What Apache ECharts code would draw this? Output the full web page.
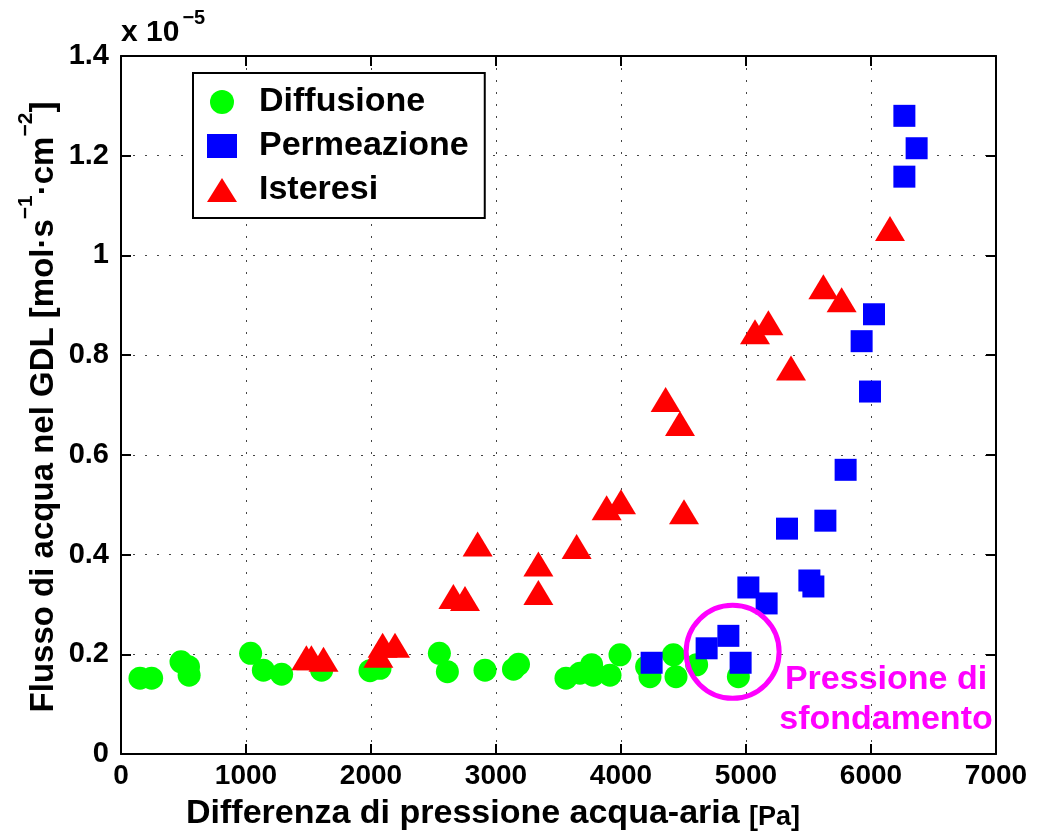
<!DOCTYPE html>
<html>
<head>
<meta charset="utf-8">
<script src="https://cdn.jsdelivr.net/npm/echarts@6/dist/echarts.min.js"></script>
<style>
    html, body { margin: 0; padding: 0; background: #fff; }
    #chart { width: 1037px; height: 834px; }
</style>
</head>
<body>
<div id="chart"></div>
<script>
// data (flux in units of 1e-5 mol s^-1 cm^-2)
const xTicks = [0, 1000, 2000, 3000, 4000, 5000, 6000, 7000];
const yTicks = [0, 0.2, 0.4, 0.6, 0.8, 1, 1.2, 1.4];

const diffX = [152, 245, 480, 540, 545, 1037, 1139, 1285, 1605, 1992, 2072, 2547, 2611, 2912,
    3140, 3180, 3560, 3672, 3765, 3778, 3912, 3992, 4205, 4232, 4419, 4440, 4605, 4939];
const diffY = [0.152, 0.152, 0.185, 0.175, 0.158, 0.202, 0.168, 0.160, 0.168, 0.167, 0.172, 0.202, 0.165, 0.168,
    0.170, 0.180, 0.152, 0.162, 0.179, 0.158, 0.158, 0.199, 0.175, 0.155, 0.199, 0.155, 0.179, 0.155];

const permX = [4245, 4685, 4859, 4957, 5019, 5165, 5507, 5539, 5328, 5635, 5797, 5992, 5925, 6024, 6267, 6365, 6267];
const permY = [0.183, 0.212, 0.237, 0.183, 0.334, 0.302, 0.348, 0.336, 0.452, 0.468, 0.570, 0.727, 0.828, 0.882,
    1.280, 1.215, 1.158];

const istX = [1483, 1523, 1620, 2059, 2093, 2192, 2659, 2752, 2853, 3339, 3339, 3645, 3885, 4000, 4357, 4472,
    4504, 5072, 5179, 5360, 5619, 5765, 6152];
const istY = [0.193, 0.193, 0.190, 0.198, 0.218, 0.218, 0.316, 0.312, 0.421, 0.381, 0.324, 0.416, 0.494, 0.506,
    0.711, 0.663, 0.486, 0.847, 0.865, 0.774, 0.937, 0.911, 1.054];

// breakthrough pressure marker
const ringX = [4893];
const ringY = [0.205];

const FONT = 'Liberation Sans, Arial, sans-serif';

function pairs(xs, ys) {
    return xs.map((x, i) => [x, ys[i]]);
}

const chart = echarts.init(document.getElementById('chart'));

const gridLine = {
    show: true,
    lineStyle: { color: '#444', width: 1, type: [2, 10] }
};
const boxLine = { show: true, onZero: false, lineStyle: { color: '#000', width: 2 } };
const boxTick = { show: true, inside: true, length: 10, lineStyle: { color: '#000', width: 2 } };

const option = {
    animation: false,
    backgroundColor: '#fff',
    grid: { left: 121, right: 41, top: 56, bottom: 80 },
    xAxis: [{
        type: 'value',
        min: xTicks[0],
        max: xTicks[xTicks.length - 1],
        interval: 1000,
        axisLine: boxLine,
        axisTick: boxTick,
        axisLabel: {
            color: '#000', fontFamily: FONT, fontWeight: 'bold', fontSize: 28, margin: 8,
            formatter: v => String(v)
        },
        splitLine: gridLine
    }, {
        type: 'value',
        position: 'top',
        min: xTicks[0],
        max: xTicks[xTicks.length - 1],
        interval: 1000,
        axisLine: boxLine,
        axisTick: boxTick,
        axisLabel: { show: false },
        splitLine: { show: false }
    }],
    yAxis: [{
        type: 'value',
        min: yTicks[0],
        max: yTicks[yTicks.length - 1],
        interval: 0.2,
        axisLine: boxLine,
        axisTick: boxTick,
        axisLabel: { color: '#000', fontFamily: FONT, fontWeight: 'bold', fontSize: 29, margin: 12 },
        splitLine: gridLine
    }, {
        type: 'value',
        position: 'right',
        min: yTicks[0],
        max: yTicks[yTicks.length - 1],
        interval: 0.2,
        axisLine: boxLine,
        axisTick: boxTick,
        axisLabel: { show: false },
        splitLine: { show: false }
    }],
    legend: {
        orient: 'vertical',
        left: 193,
        top: 73,
        data: ['Diffusione', 'Permeazione', 'Isteresi'],
        itemWidth: 30,
        itemHeight: 24,
        itemGap: 10,
        padding: [12, 16, 11, 14],
        borderColor: '#000',
        borderWidth: 2,
        backgroundColor: '#fff',
        textStyle: {
            color: '#000', fontFamily: FONT, fontWeight: 'bold', fontSize: 34,
            lineHeight: 33, padding: [0, 0, 0, 17]
        }
    },
    series: [{
        name: 'Diffusione',
        type: 'scatter',
        symbol: 'circle',
        symbolSize: 23,
        itemStyle: { color: '#00ff00', opacity: 1 },
        data: pairs(diffX, diffY)
    }, {
        name: 'Permeazione',
        type: 'scatter',
        symbol: 'rect',
        symbolSize: 22,
        itemStyle: { color: '#0000ff', opacity: 1 },
        data: pairs(permX, permY)
    }, {
        name: 'Isteresi',
        type: 'scatter',
        symbol: 'triangle',
        symbolSize: [30, 25],
        itemStyle: { color: '#ff0000', opacity: 1 },
        data: pairs(istX, istY)
    }, {
        name: 'ring',
        type: 'scatter',
        symbol: 'circle',
        symbolSize: 93,
        silent: true,
        z: 5,
        itemStyle: { color: 'transparent', borderColor: '#ff00ff', borderWidth: 5, opacity: 1 },
        data: pairs(ringX, ringY)
    }],
    graphic: [{
        type: 'text',
        left: 121,
        top: 8,
        style: {
            text: '{b|x 10}{s|\u22125}',
            fill: '#000',
            rich: {
                b: { fontFamily: FONT, fontSize: 30, fontWeight: 'bold', lineHeight: 40, verticalAlign: 'bottom' },
                s: { fontFamily: FONT, fontSize: 20, fontWeight: 'bold', lineHeight: 40, verticalAlign: 'top', padding: [0, 0, 0, 3] }
            }
        }
    }, {
        type: 'text',
        x: 186,
        y: 811,
        style: {
            text: '{b|Differenza di pressione acqua-aria }{s|[Pa]}',
            align: 'left',
            verticalAlign: 'middle',
            fill: '#000',
            rich: {
                b: { fontFamily: FONT, fontSize: 34, fontWeight: 'bold', lineHeight: 40, verticalAlign: 'bottom' },
                s: { fontFamily: FONT, fontSize: 27, fontWeight: 'bold', lineHeight: 40, verticalAlign: 'bottom' }
            }
        }
    }, {
        type: 'text',
        x: 38,
        y: 407,
        rotation: Math.PI / 2,
        style: {
            text: '{b|Flusso di acqua nel GDL [mol\u00b7s}{s|\u22121}{b|\u00b7cm}{s|\u22122}{b|]}',
            align: 'center',
            verticalAlign: 'middle',
            fill: '#000',
            rich: {
                b: { fontFamily: FONT, fontSize: 33, fontWeight: 'bold', lineHeight: 44, verticalAlign: 'bottom' },
                s: { fontFamily: FONT, fontSize: 21, fontWeight: 'bold', lineHeight: 44, verticalAlign: 'top' }
            }
        }
    }, {
        type: 'text',
        x: 886,
        y: 700,
        style: {
            text: 'Pressione di\nsfondamento',
            align: 'center',
            verticalAlign: 'middle',
            fill: '#ff00ff',
            fontFamily: FONT,
            fontSize: 34,
            fontWeight: 'bold',
            lineHeight: 40
        }
    }]
};

chart.setOption(option);
</script>
</body>
</html>
